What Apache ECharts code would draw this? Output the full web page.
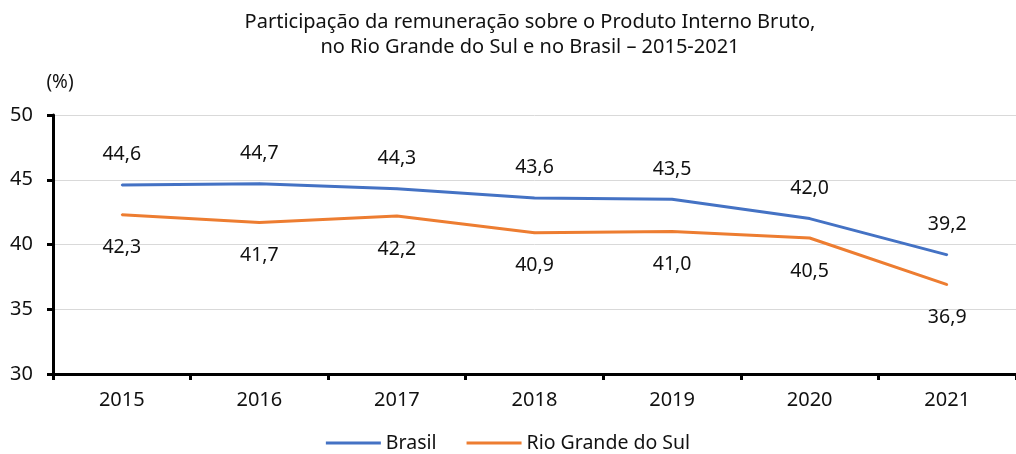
<!DOCTYPE html>
<html>
<head>
<meta charset="utf-8">
<script src="https://cdn.jsdelivr.net/npm/echarts@6/dist/echarts.min.js"></script>
<style>
  html, body { margin: 0; padding: 0; background: #fff; }
  #chart { width: 1016px; height: 454px; }
</style>
</head>
<body>
<div id="chart"></div>
<script>
const years = ['2015', '2016', '2017', '2018', '2019', '2020', '2021'];
const brasil = [44.6, 44.7, 44.3, 43.6, 43.5, 42.0, 39.2];
const rioGrande = [42.3, 41.7, 42.2, 40.9, 41.0, 40.5, 36.9];
const yTicks = [30, 35, 40, 45, 50];

const font = '"Noto Sans", "Open Sans", sans-serif';
const fmt = p => p.value.toFixed(1).replace('.', ',');

let chart = echarts.init(document.getElementById('chart'));
chart.setOption({
  textStyle: { fontFamily: font },
  title: {
    text: 'Participação da remuneração sobre o Produto Interno Bruto,\nno Rio Grande do Sul e no Brasil – 2015-2021',
    left: 525,
    textAlign: 'center',
    top: 5,
    textStyle: { fontFamily: font, fontSize: 20, fontWeight: 'normal', color: '#111', lineHeight: 25 }
  },
  legend: {
    top: 428,
    left: 'center',
    itemWidth: 55,
    itemHeight: 3,
    itemGap: 30,
    icon: 'rect',
    textStyle: { fontFamily: font, fontSize: 19.5, color: '#111' },
    data: ['Brasil', 'Rio Grande do Sul']
  },
  grid: { left: 53, top: 115, width: 969, height: 259 },
  xAxis: {
    type: 'category',
    data: years,
    boundaryGap: true,
    axisLine: { lineStyle: { color: '#000', width: 3 } },
    axisTick: { show: true, length: 6, inside: false, lineStyle: { color: '#000', width: 3 } },
    axisLabel: { fontSize: 20, color: '#111', margin: 16, fontFamily: font }
  },
  yAxis: {
    type: 'value',
    min: 30,
    max: 50,
    interval: 5,
    name: '(%)',
    nameGap: 23,
    nameTextStyle: { fontSize: 19, color: '#111', align: 'center', padding: [0, 0, 0, 14], fontFamily: font },
    axisLine: { show: true, lineStyle: { color: '#000', width: 3 } },
    axisTick: { show: true, length: 6, lineStyle: { color: '#000', width: 3 } },
    axisLabel: {
      fontSize: 20, color: '#111', margin: 20, fontFamily: font,
      formatter: v => yTicks.includes(v) ? String(v) : ''
    },
    splitLine: { show: true, lineStyle: { color: '#d9d9d9', width: 1 } }
  },
  series: [
    {
      name: 'Brasil',
      type: 'line',
      data: brasil,
      symbol: 'circle',
      symbolSize: 2,
      showAllSymbol: true,
      lineStyle: { color: '#4472C4', width: 3 },
      itemStyle: { color: '#4472C4' },
      label: { show: true, position: 'top', distance: 19, fontSize: 19.5, color: '#111', formatter: fmt, fontFamily: font }
    },
    {
      name: 'Rio Grande do Sul',
      type: 'line',
      data: rioGrande,
      symbol: 'circle',
      symbolSize: 2,
      showAllSymbol: true,
      lineStyle: { color: '#ED7D31', width: 3 },
      itemStyle: { color: '#ED7D31' },
      label: { show: true, position: 'bottom', distance: 22, fontSize: 19.5, color: '#111', formatter: fmt, fontFamily: font }
    }
  ]
});
</script>
</body>
</html>
